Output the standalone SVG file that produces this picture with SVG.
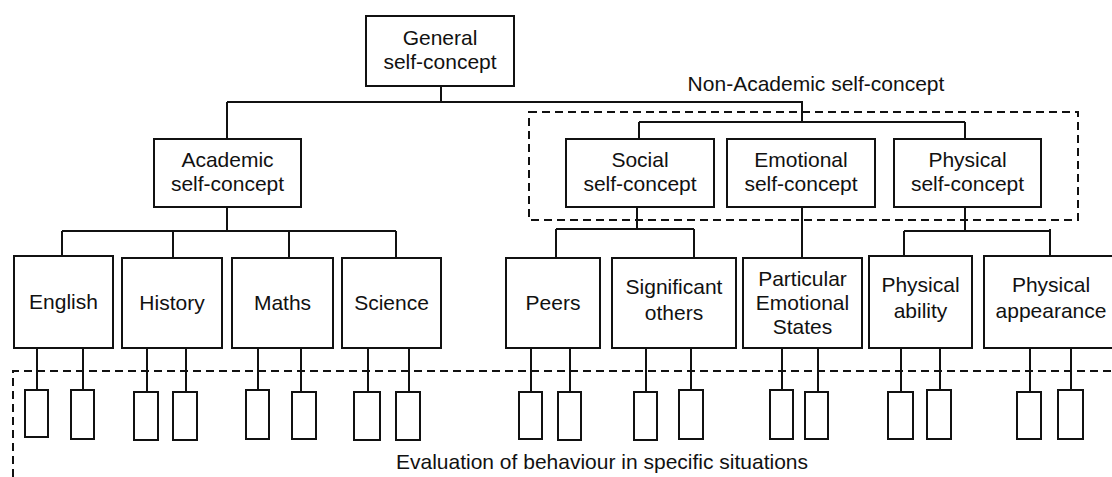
<svg xmlns="http://www.w3.org/2000/svg" width="1112" height="477" viewBox="0 0 1112 477">
<style>
.b{fill:#fff;stroke:#111;stroke-width:2}
.s{fill:#fff;stroke:#111;stroke-width:2}
.c{fill:none;stroke:#111;stroke-width:2}
.d{fill:none;stroke:#111;stroke-width:2;stroke-dasharray:8 5}
text{font-family:"Liberation Sans",Arial,sans-serif;font-size:21px;fill:#111;text-anchor:middle}
</style>
<rect width="1112" height="477" fill="#fff"/>
<g id="groups">
<rect class="d" x="529" y="112" width="549" height="108"/>
<path class="d" d="M13 477V371H1112"/>
<text x="816" y="91">Non-Academic self-concept</text>
<text x="602" y="469">Evaluation of behaviour in specific situations</text>
</g>
<g id="connectors">
<path class="c" d="M441 86V102M227 102H802V122M227 102V139M639 122H965M639 122V139M965 122V139"/>
<path class="c" d="M227 207V231M62 231H396M62 231V256M173 231V258M289 231V258M396 231V258"/>
<path class="c" d="M637 207V229M556 229H694M556 229V258M694 229V258"/>
<path class="c" d="M802 207V258"/>
<path class="c" d="M965 207V231M904 231H1050M904 231V256M1050 229V256"/>
<path class="c" d="M37 348V390M83 348V390M147 348V392M186 348V392M258 348V390M301 348V392M368 348V392M409 348V392M531 348V392M570 348V392M646 348V392M691 348V390M782 348V390M818 348V392M901 348V392M940 348V390M1030 348V392M1071 348V390"/>
</g>
<g id="general"><rect class="b" x="366" y="16" width="148" height="70"/><text x="440" y="45">General</text><text x="440" y="69">self-concept</text></g>
<g id="academic"><rect class="b" x="154" y="139" width="147" height="68"/><text x="227.5" y="167">Academic</text><text x="227.5" y="191">self-concept</text></g>
<g id="social"><rect class="b" x="566" y="139" width="148" height="68"/><text x="640" y="167">Social</text><text x="640" y="191">self-concept</text></g>
<g id="emotional"><rect class="b" x="727" y="139" width="148" height="68"/><text x="801" y="167">Emotional</text><text x="801" y="191">self-concept</text></g>
<g id="physical"><rect class="b" x="894" y="139" width="147" height="68"/><text x="967.5" y="167">Physical</text><text x="967.5" y="191">self-concept</text></g>
<g id="english"><rect class="b" x="14" y="256" width="99" height="92"/><text x="63.5" y="309">English</text></g>
<g id="history"><rect class="b" x="122" y="258" width="100" height="90"/><text x="172" y="310">History</text></g>
<g id="maths"><rect class="b" x="232" y="258" width="101" height="90"/><text x="282.5" y="310">Maths</text></g>
<g id="science"><rect class="b" x="342" y="258" width="99" height="90"/><text x="391.5" y="310">Science</text></g>
<g id="peers"><rect class="b" x="506" y="258" width="94" height="90"/><text x="553" y="310">Peers</text></g>
<g id="significant"><rect class="b" x="612" y="258" width="124" height="90"/><text x="674" y="294">Significant</text><text x="674" y="320">others</text></g>
<g id="particular"><rect class="b" x="743" y="258" width="119" height="90"/><text x="802.5" y="286">Particular</text><text x="802.5" y="310">Emotional</text><text x="802.5" y="334">States</text></g>
<g id="ability"><rect class="b" x="869" y="256" width="103" height="92"/><text x="920.5" y="292">Physical</text><text x="920.5" y="318">ability</text></g>
<g id="appearance"><rect class="b" x="984" y="256" width="134" height="92"/><text x="1051" y="292">Physical</text><text x="1051" y="318">appearance</text></g>
<g id="situations">
<rect class="s" x="25" y="390" width="23" height="47"/><rect class="s" x="71" y="390" width="23" height="49"/>
<rect class="s" x="134" y="392" width="24" height="48"/><rect class="s" x="173" y="392" width="24" height="48"/>
<rect class="s" x="246" y="390" width="23" height="49"/><rect class="s" x="292" y="392" width="24" height="47"/>
<rect class="s" x="354" y="392" width="26" height="48"/><rect class="s" x="396" y="392" width="24" height="48"/>
<rect class="s" x="519" y="392" width="23" height="47"/><rect class="s" x="558" y="392" width="23" height="48"/>
<rect class="s" x="634" y="392" width="23" height="48"/><rect class="s" x="679" y="390" width="24" height="49"/>
<rect class="s" x="770" y="390" width="23" height="49"/><rect class="s" x="805" y="392" width="23" height="47"/>
<rect class="s" x="888" y="392" width="25" height="47"/><rect class="s" x="927" y="390" width="24" height="49"/>
<rect class="s" x="1017" y="392" width="24" height="47"/><rect class="s" x="1058" y="390" width="25" height="49"/>
</g>
</svg>
